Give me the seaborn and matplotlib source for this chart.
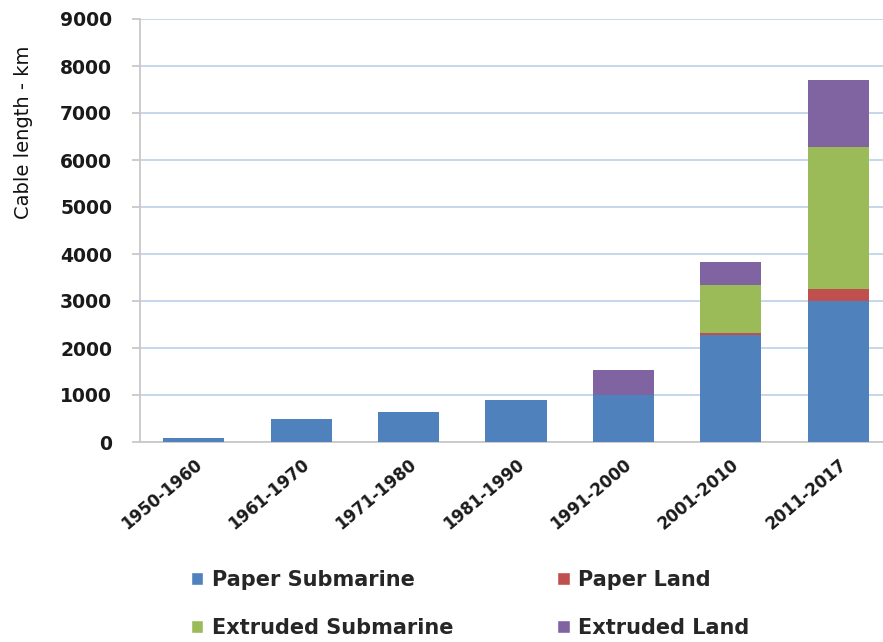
"""
Stacked bars: HV cable length installed per decade, by technology
"""

import matplotlib
matplotlib.use('Agg')
import matplotlib.pyplot as plt
from matplotlib.patches import Patch
import seaborn as sns
import numpy as np

periods = ['1950-1960', '1961-1970', '1971-1980', '1981-1990',
           '1991-2000', '2001-2010', '2011-2017']
paper_submarine = [80, 490, 630, 900, 1000, 2270, 3000]
paper_land = [0, 0, 0, 0, 0, 50, 250]
extruded_submarine = [0, 0, 0, 0, 0, 1015, 3020]
extruded_land = [0, 0, 0, 0, 535, 485, 1430]

series = ['Paper Submarine', 'Paper Land', 'Extruded Submarine', 'Extruded Land']
colors = ['#4f81bd', '#c0504d', '#9bbb59', '#8064a2']

sns.set_style('white')
plt.rcParams['font.family'] = ['DejaVu Sans']

fig = plt.figure(figsize=(8.83, 6.42), dpi=100)
ax = fig.add_axes([140 / 883, 1 - 442 / 642, 752 / 883, 423 / 642])

# cumulative tops, drawn tallest first so lower layers sit on top
layers = np.array([paper_submarine, paper_land, extruded_submarine, extruded_land])
cum = np.cumsum(layers, axis=0)
for i in range(3, -1, -1):
    sns.barplot(x=periods, y=cum[i], color=colors[i], width=0.57,
                saturation=1, linewidth=0, ax=ax, zorder=3)

ax.set_ylim(0, 9000)
ax.set_xlim(-0.5, 6.5)
ax.set_yticks(range(0, 9001, 1000))
ax.yaxis.grid(True, color='#c2d3ea', linewidth=1.3, zorder=0)
ax.set_axisbelow(True)
for s in ['top', 'right']:
    ax.spines[s].set_visible(False)
for s in ['left', 'bottom']:
    ax.spines[s].set_color('#c8c8c8')
    ax.spines[s].set_linewidth(1.3)

ax.tick_params(axis='y', left=True, direction='out', length=6, width=1.3,
               color='#c8c8c8', labelsize=13.5, pad=14)
ax.tick_params(axis='x', length=0, labelsize=12, pad=10)
for lbl in ax.get_yticklabels():
    lbl.set_fontweight('bold')
    lbl.set_color('#1a1a1a')
plt.setp(ax.get_xticklabels(), rotation=40, ha='right', rotation_mode='anchor',
         fontweight='bold', color='#1a1a1a')
ax.set_ylabel('Cable length - km', fontsize=14, color='#111111')
ax.yaxis.set_label_coords(-0.142, 0.733)
ax.set_xlabel('')

# row-wise legend order (matplotlib fills columns first)
order = [0, 2, 1, 3]
handles = [Patch(facecolor=colors[k], label=series[k]) for k in order]
fig.legend(handles=handles, ncol=2, loc='center left',
           bbox_to_anchor=(172 / 883, 1 - 604 / 642), frameon=False,
           prop={'weight': 'bold', 'size': 15},
           handlelength=0.6, handleheight=0.6, handletextpad=0.4,
           columnspacing=5.0, labelspacing=1.35)

plt.savefig('out.png', dpi=100)
